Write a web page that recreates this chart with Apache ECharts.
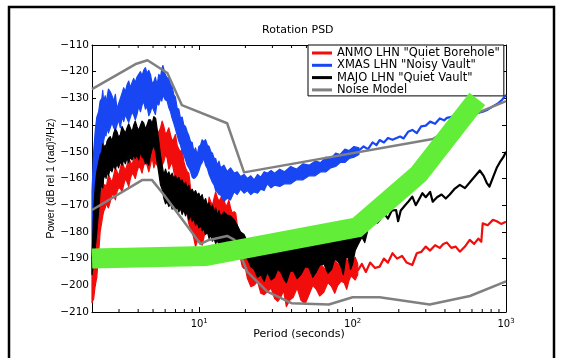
<!DOCTYPE html>
<html>
<head>
<meta charset="utf-8">
<script src="https://cdn.jsdelivr.net/npm/echarts@6/dist/echarts.min.js"></script>
<style>
  html, body { margin: 0; padding: 0; background: #fff; }
  #chart { width: 565px; height: 358px; }
</style>
</head>
<body>
<div id="chart"></div>
<script>
// noisy bands: [period, upper edge dB, lower edge dB]
// ANMO (red)
const redBand = [
    [2.00, -190, -206.5], [2.05, -186, -205], [2.10, -182, -200], [2.15, -175, -197], [2.21, -170, -188],
    [2.26, -166, -180], [2.32, -164, -176], [2.35, -160, -174], [2.38, -162.4, -172.4], [2.44, -162.4, -171],
    [2.47, -164, -169], [2.50, -162, -170], [2.56, -158.5, -171], [2.63, -160, -168.7], [2.70, -161.5, -166],
    [2.77, -158.7, -166.2], [2.84, -156, -168], [2.91, -157.4, -165], [2.98, -159, -163.5], [3.06, -156.2, -163.7],
    [3.14, -153.5, -165], [3.22, -155.5, -162.4], [3.30, -157, -160], [3.38, -155, -161.2], [3.47, -152.5, -163],
    [3.56, -153.7, -160], [3.65, -155, -158], [3.74, -152.4, -158.7], [3.83, -150, -160], [3.93, -151.2, -157.4],
    [4.03, -152.5, -155.5], [4.14, -150, -156.2], [4.24, -146.5, -158], [4.35, -147.5, -155], [4.46, -149.5, -154],
    [4.57, -150, -155], [4.69, -147, -157.5], [4.81, -151, -155], [4.93, -149.5, -152], [5.06, -146.2, -156],
    [5.18, -143, -154], [5.31, -142.5, -155], [5.45, -142.5, -151], [5.59, -141.2, -152], [5.73, -138.5, -155],
    [5.88, -140.5, -153.7], [6.03, -143.5, -151], [6.18, -142.5, -152.4], [6.34, -141, -156.5], [6.50, -143.7, -155],
    [6.66, -146, -154], [6.83, -145, -157.4], [7.00, -143.5, -161], [7.18, -147.5, -160], [7.36, -149, -158],
    [7.55, -150, -163.7], [7.74, -149, -167], [7.94, -153.7, -168.7], [8.14, -156, -170], [8.35, -157.4, -173.7],
    [8.56, -158, -177], [8.78, -163.7, -178.7], [9.00, -167, -180], [9.23, -168.7, -182.4], [9.46, -169, -185.5],
    [9.70, -172.4, -183.7], [9.95, -174.5, -182], [10.2, -175, -184], [10.45, -173, -185], [10.7, -176, -182.4],
    [11.0, -175.5, -179], [11.3, -172.4, -180], [11.6, -167, -181], [11.9, -168.7, -177.4], [12.2, -170, -175],
    [12.5, -167.4, -176.2], [12.8, -165, -178.5], [13.1, -167, -175.5], [13.45, -168.5, -174], [13.8, -167.4, -175],
    [14.15, -166, -178], [14.5, -168, -176.2], [14.85, -170, -175], [15.2, -170, -177.4], [15.6, -168, -180],
    [16.0, -171, -180], [16.45, -173, -179], [16.9, -172.4, -182.4], [17.3, -173, -185], [17.7, -177.4, -186],
    [18.15, -182, -188], [18.6, -182.4, -190], [19.1, -181, -193], [19.6, -186, -193.7], [20.1, -188, -194],
    [20.6, -188.7, -197.4], [21.7, -187, -200.5], [22.8, -191, -200], [24.0, -192.5, -198.5], [25.2, -192.4, -203],
    [26.5, -189.5, -203.5], [27.8, -193.7, -202.4], [29.4, -194.5, -201], [31, -194, -205], [32.5, -191.5, -206],
    [34, -195, -204.5], [35.5, -196.5, -202], [37, -194, -208], [39, -192, -205.5], [41, -195, -204.5],
    [43.5, -196.5, -201], [46, -194.5, -205.5], [49, -192, -207], [52, -194, -203.5], [55, -195.5, -200],
    [58, -193.5, -201.5], [61, -191.5, -204], [65, -193.5, -202.5], [69, -194.5, -199], [73, -192.5, -200.5],
    [76.5, -190.5, -203], [80, -192, -200], [84, -193.5, -198.5], [88, -191.5, -199], [91.5, -190, -201.5],
    [95, -192, -198], [97.5, -193, -196.5], [100, -191, -197], [104, -189.5, -198], [108, -192, -196]
];
const redTailPeriod = [108, 115, 122, 130, 140, 150, 160, 170, 182, 195, 210, 225, 245, 262, 280, 300, 320, 345, 370, 390, 412, 440, 470, 500, 540, 580, 620, 660, 690, 705, 760, 822, 870, 930, 1000];
const redTail = [-194.5, -192, -195, -191.5, -193.5, -193, -190, -191.5, -188, -190, -189, -191.5, -192.4, -188, -187.5, -185.5, -187, -185, -186, -184.5, -184, -186, -185.5, -187.4, -185.5, -183, -184.5, -182.5, -183.7, -176.8, -177.5, -175.5, -176, -177, -176.2];

// XMAS (blue)
const blueBand = [
    [2.00, -165, -190], [2.05, -150, -180], [2.10, -142, -176], [2.15, -137, -170], [2.21, -135, -162],
    [2.26, -131, -158], [2.32, -130, -152], [2.35, -127, -150], [2.38, -131, -146], [2.44, -129, -143],
    [2.47, -132, -144], [2.50, -130, -141], [2.56, -126.5, -143], [2.63, -127.5, -141], [2.70, -129, -139],
    [2.77, -131, -141], [2.84, -128.5, -142], [2.91, -134, -140], [2.98, -132, -138], [3.06, -130, -141],
    [3.14, -128, -137], [3.22, -126, -138.7], [3.30, -127.5, -136], [3.38, -125, -137.5], [3.47, -123.5, -139],
    [3.56, -126, -137], [3.65, -124, -135], [3.74, -122.5, -136.2], [3.83, -124, -138], [3.93, -122, -136],
    [4.03, -121, -133], [4.14, -120, -135], [4.24, -121.5, -132.5], [4.35, -119.4, -131.2], [4.46, -118.5, -134],
    [4.57, -120.6, -133], [4.69, -119.5, -136.5], [4.81, -121, -135], [4.93, -124.5, -133], [5.06, -123.7, -134.5],
    [5.18, -122, -136], [5.31, -125, -131.8], [5.45, -121, -132.5], [5.59, -122, -130], [5.70, -119, -131],
    [5.80, -117.7, -128.7], [6.00, -121, -130.5], [6.18, -122.5, -131], [6.34, -122, -133.5], [6.50, -125, -135],
    [6.66, -125.5, -137.5], [6.83, -128.7, -139.3], [7.00, -129.5, -141.5], [7.18, -133.7, -143.7], [7.36, -134, -146],
    [7.55, -137.5, -147.5], [7.74, -137, -150], [7.94, -140, -151.2], [8.14, -140.5, -153], [8.35, -142.5, -155],
    [8.56, -144, -156], [8.78, -146.2, -157.4], [9.00, -146.5, -159.5], [9.23, -150, -160], [9.46, -148.5, -159.5],
    [9.70, -151.2, -158.7], [9.95, -148, -157], [10.2, -147.5, -155], [10.45, -145.5, -154], [10.7, -146.2, -152.4],
    [11.0, -145.5, -155], [11.3, -147.5, -156.2], [11.6, -148, -158.5], [11.9, -150, -160], [12.2, -150.5, -161.5],
    [12.5, -152.4, -162.4], [12.8, -152.5, -164.5], [13.1, -155, -165], [13.45, -153.5, -166], [13.8, -156, -166.2],
    [14.5, -155, -168.5], [15.2, -157.4, -167.4], [16.0, -156, -168], [16.9, -158, -165], [17.7, -157.5, -166],
    [18.6, -159.3, -164], [19.6, -158.5, -165.5], [20.6, -160, -164.5], [21.7, -159, -166], [22.8, -160.5, -165],
    [24.0, -158.5, -165.5], [25.2, -159.5, -164], [26.5, -157.5, -164.5], [27.8, -158, -162], [29.4, -157, -163.5],
    [31, -158, -162.5], [33.5, -156.5, -163], [36, -157.5, -162], [39.5, -155.5, -162], [43, -156.5, -160.5],
    [47.5, -154.5, -160.5], [52, -155, -159], [57, -153.5, -159], [62, -154, -157.5], [67, -152, -157.5],
    [72, -152.5, -156], [77.5, -150.5, -155.5], [83, -151, -154], [89, -149, -154], [95, -149.5, -152.5],
    [102, -148, -152], [110, -148.5, -151]
];
const blueTailPeriod = [110, 118, 126, 135, 143, 150, 160, 170, 182, 204, 215, 230, 245, 262, 280, 300, 320, 345, 370, 395, 412, 450, 500, 560, 620, 705, 760, 820, 880, 940, 1000];
const blueTail = [-149.5, -148, -149, -146.5, -147.5, -145.6, -146.5, -144.8, -145.5, -144.3, -145, -142.5, -141.8, -143, -140.5, -140.2, -138.7, -139.5, -137.5, -138.2, -137.3, -136.8, -137, -136, -135.8, -135, -134.2, -133, -132, -130.6, -128.7];

// MAJO (black)
const blackBand = [
    [2.00, -190, -196], [2.05, -172.4, -191], [2.10, -163, -186], [2.15, -157.4, -180], [2.21, -154, -172],
    [2.26, -151.2, -165], [2.32, -150, -162], [2.35, -147, -163.5], [2.38, -148.7, -160], [2.44, -147.5, -158.5],
    [2.47, -149, -160], [2.50, -146.2, -157.4], [2.56, -145, -159], [2.63, -144.3, -156.2], [2.70, -146, -157.5],
    [2.77, -143, -155], [2.84, -141.5, -156.5], [2.91, -142.5, -154.5], [2.98, -144.5, -156], [3.06, -143.7, -153.7],
    [3.14, -140.5, -155], [3.22, -141.8, -153], [3.30, -143, -154.5], [3.38, -141.2, -152.4], [3.47, -139.5, -154],
    [3.56, -141.2, -152], [3.65, -142.5, -153], [3.74, -140, -151.2], [3.83, -138.5, -152.5], [3.93, -140.6, -151],
    [4.03, -142, -153], [4.14, -140, -150], [4.24, -138.5, -152], [4.35, -139.3, -152.4], [4.46, -141.5, -154.5],
    [4.57, -140, -153.7], [4.69, -138, -155], [4.81, -138, -151.2], [4.93, -139.5, -149], [5.06, -136.8, -147.5],
    [5.20, -137.5, -150], [5.31, -141.2, -153.7], [5.45, -146, -158], [5.59, -151.2, -162.4], [5.73, -155, -164],
    [5.88, -158.7, -167.4], [6.03, -156.5, -169.5], [6.18, -158.7, -168.7], [6.34, -157.5, -170.5], [6.50, -159.3, -169.3],
    [6.66, -158, -171.5], [6.83, -160, -170], [7.00, -159, -172], [7.18, -160.6, -170.6], [7.36, -159.5, -172.5],
    [7.55, -161.2, -171.2], [7.74, -160.5, -173.5], [7.94, -162.4, -171.8], [8.14, -161.5, -174], [8.35, -163.7, -172.4],
    [8.56, -162.5, -175.5], [8.78, -165, -173.7], [9.00, -164, -176], [9.23, -165.5, -175], [9.46, -164.5, -177.5],
    [9.70, -166.2, -176.2], [9.95, -165.5, -178.5], [10.2, -167.4, -177.4], [10.45, -166, -179.5], [10.7, -168.7, -178.7],
    [11.0, -167.5, -181], [11.3, -170, -180], [11.6, -169, -182.5], [11.9, -171.2, -181.2], [12.2, -170, -183.5],
    [12.5, -172.4, -182.4], [12.8, -171, -184.5], [13.1, -173.7, -183], [13.45, -172, -185], [13.8, -174.3, -183.7],
    [14.5, -172.5, -185], [15.2, -173.7, -183], [16.0, -174, -185.5], [16.9, -175.5, -183.7], [17.7, -177.5, -187],
    [18.6, -180, -185], [19.6, -181, -189], [20.6, -183.7, -190], [21.7, -182.5, -193], [22.8, -185, -194],
    [24.0, -183.5, -197], [25.2, -186, -196], [26.5, -184, -198.5], [27.8, -185.5, -195], [29.4, -184, -198],
    [31, -185, -197], [32.5, -183.5, -194], [34, -186, -195], [35.5, -184, -197.5], [37, -184.5, -199],
    [39, -183, -195], [41, -185, -194.5], [43.5, -183.5, -197.5], [46, -184, -196], [49, -182.5, -193],
    [52, -184, -193.5], [55, -182.5, -197], [58, -183, -195], [61, -182, -192.5], [65, -182.5, -192],
    [69, -181, -195.5], [73, -181.5, -194], [76.5, -180.5, -190], [80, -181, -191], [84, -180, -193],
    [87, -180.5, -196], [90, -179, -190], [93, -179.5, -189], [97, -178.5, -194], [100, -178.5, -192],
    [104, -176.5, -187], [108, -177, -185], [115, -175.5, -182], [120, -174, -184], [125, -175, -180]
];
const blackTailPeriod = [125, 135, 145, 150, 160, 170, 180, 192, 198, 206, 220, 232, 245, 258, 270, 285, 300, 320, 333, 355, 380, 405, 430, 460, 500, 540, 600, 675, 715, 750, 780, 830, 870, 910, 960, 1000];
const blackTail = [-177, -174, -176.5, -175.5, -173, -175, -172, -171.8, -176, -172, -170, -168.5, -166.8, -170, -168, -165.5, -167, -165, -168.7, -167, -166, -167.5, -166, -164, -162.4, -163.6, -160.5, -157, -159, -161.7, -163, -159, -156, -154, -152, -150];

// noise model, upper and lower bounds
const noiseHighPeriod = [2, 3.9, 4.6, 6.2, 7.7, 15.2, 19.6, 333, 646, 1000];
const noiseHigh = [-126.5, -117, -115.7, -120.5, -132.5, -139.3, -157.7, -145.2, -135.5, -131];
const noiseLowPeriod = [2, 4.24, 4.93, 5.9, 10.2, 11.6, 15.2, 17, 20.6, 27.8, 40, 70, 100, 150, 318, 582, 1000];
const noiseLow = [-171.8, -160.6, -160.6, -166.2, -184.5, -183, -181.5, -183, -195, -202.4, -206.7, -207.2, -204.5, -204.5, -207.2, -204, -198.5];

// the thick green overlay
const greenPeriod = [2, 11, 107, 270, 650];
const greenPower = [-190, -189, -178.3, -158.3, -130.2];

const xTickValues = [10, 100, 1000];
const xTickExponents = ['1', '2', '3'];
const minorTickValues = [3, 4, 5, 6, 7, 8, 9, 20, 30, 40, 50, 60, 70, 80, 90, 200, 300, 400, 500, 600, 700, 800, 900];

const NAMES = ['ANMO LHN "Quiet Borehole"', 'XMAS LHN "Noisy Vault"', 'MAJO LHN "Quiet Vault"', 'Noise Model'];
const FONT = 'DejaVu Sans';

const chart = echarts.init(document.getElementById('chart'));

// filled polygon between the upper and lower edge of a noisy trace
function band(name, color, rows) {
    return {
        name: name,
        type: 'custom',
        coordinateSystem: 'cartesian2d',
        silent: true,
        itemStyle: { color: color },
        data: rows,
        encode: { x: 0, y: [1, 2] },
        renderItem: (params, api) => {
            if (params.dataIndex !== 0) return null;
            const top = rows.map(r => api.coord([r[0], r[1]]));
            const bottom = rows.map(r => api.coord([r[0], r[2]])).reverse();
            return {
                type: 'polygon',
                shape: { points: top.concat(bottom) },
                style: { fill: color, stroke: color, lineWidth: 1.2, lineJoin: 'round' }
            };
        }
    };
}

function line(name, color, periods, values, width, z) {
    return {
        name: name,
        type: 'line',
        data: periods.map((p, i) => [p, values[i]]),
        showSymbol: false,
        symbol: 'none',
        silent: true,
        z: z || 2,
        itemStyle: { color: color },
        lineStyle: { color: color, width: width, join: 'round' }
    };
}

const RED = '#f20d0d';
const BLUE = '#1746f2';
const BLACK = '#000000';
const GRAY = '#808080';
const GREEN = '#62ee38';

const green = line('green', GREEN, greenPeriod, greenPower, 20, 10);
green.lineStyle.join = 'miter';
green.lineStyle.cap = 'butt';

const option = {
    animation: false,
    title: {
        text: 'Rotation PSD',
        left: 262,
        top: 25,
        padding: 0,
        textStyle: { fontFamily: FONT, fontSize: 11, fontWeight: 'normal', color: '#000' }
    },
    legend: {
        data: NAMES.map(n => ({ name: n, icon: 'rect' })),
        orient: 'vertical',
        left: 308,
        top: 45,
        itemWidth: 20,
        itemHeight: 3,
        itemGap: 0.3,
        padding: [2, 4, 0, 4],
        borderColor: '#000',
        borderWidth: 1,
        backgroundColor: '#fff',
        selectedMode: false,
        textStyle: { fontFamily: FONT, fontSize: 11.5, lineHeight: 12, color: '#000' }
    },
    grid: { left: 92, top: 45, right: 59, bottom: 46 },
    xAxis: [
        {
            type: 'log',
            logBase: 10,
            min: 2,
            max: 1000,
            position: 'bottom',
            name: 'Period (seconds)',
            nameLocation: 'middle',
            nameGap: 16,
            nameMoveOverlap: false,
            nameTextStyle: { fontFamily: FONT, fontSize: 11, color: '#000', lineHeight: 13 },
            axisLine: { lineStyle: { color: '#000', width: 1 } },
            axisTick: { inside: true, length: 5, lineStyle: { color: '#000' } },
            axisLabel: {
                margin: 6,
                formatter: v => {
                    const i = xTickValues.findIndex(t => Math.abs(t - v) < 1e-6);
                    return i < 0 ? '' : '{b|10}{s|' + xTickExponents[i] + '}';
                },
                rich: {
                    b: { fontFamily: FONT, fontSize: 10, color: '#000' },
                    s: { fontFamily: FONT, fontSize: 7, color: '#000', padding: [0, 0, 6, 0] }
                }
            },
            splitLine: { show: false }
        },
        {
            type: 'log',
            logBase: 10,
            min: 2,
            max: 1000,
            position: 'top',
            axisLine: { lineStyle: { color: '#000', width: 1 } },
            axisTick: { inside: true, length: 5, lineStyle: { color: '#000' } },
            axisLabel: { show: false },
            splitLine: { show: false }
        }
    ],
    yAxis: [
        {
            type: 'value',
            min: -210,
            max: -110,
            interval: 10,
            position: 'left',
            name: 'Power (dB rel 1 (rad)\u00b2/Hz)',
            nameLocation: 'middle',
            nameRotate: 90,
            nameGap: 35,
            nameMoveOverlap: false,
            nameTextStyle: { fontFamily: 'Liberation Sans', fontSize: 10.5, color: '#000' },
            axisLine: { show: true, lineStyle: { color: '#000', width: 1 } },
            axisTick: { show: true, inside: true, length: 4, lineStyle: { color: '#000' } },
            axisLabel: {
                margin: 3,
                fontFamily: FONT,
                fontSize: 10.5,
                color: '#000',
                formatter: v => String(v).replace('-', '\u2212')
            },
            splitLine: { show: false }
        },
        {
            type: 'value',
            min: -210,
            max: -110,
            interval: 10,
            position: 'right',
            axisLine: { show: true, lineStyle: { color: '#000', width: 1 } },
            axisTick: { show: true, inside: true, length: 4, lineStyle: { color: '#000' } },
            axisLabel: { show: false },
            splitLine: { show: false }
        }
    ],
    graphic: [{
        type: 'rect',
        silent: true,
        shape: { x: 9, y: 7, width: 545, height: 400 },
        style: { fill: 'none', stroke: '#000', lineWidth: 2.5 }
    }],
    series: [
        band(NAMES[0], RED, redBand),
        line(NAMES[0], RED, redTailPeriod, redTail, 2.2),
        band(NAMES[1], BLUE, blueBand),
        line(NAMES[1], BLUE, blueTailPeriod, blueTail, 2.2),
        band(NAMES[2], BLACK, blackBand),
        line(NAMES[2], BLACK, blackTailPeriod, blackTail, 2.2),
        line(NAMES[3], GRAY, noiseHighPeriod, noiseHigh, 2.5, 3),
        line(NAMES[3], GRAY, noiseLowPeriod, noiseLow, 2.5, 3),
        green,
        {
            // minor ticks of the log axis, top and bottom
            name: 'minorTicks',
            type: 'custom',
            silent: true,
            z: 3,
            data: minorTickValues.map(v => [v, -210]),
            encode: { x: 0, y: 1 },
            renderItem: (params, api) => {
                const b = api.coord([api.value(0), -210]);
                const t = api.coord([api.value(0), -110]);
                return {
                    type: 'group',
                    children: [
                        { type: 'line', shape: { x1: b[0], y1: b[1], x2: b[0], y2: b[1] - 3 }, style: { stroke: '#000', lineWidth: 1 } },
                        { type: 'line', shape: { x1: t[0], y1: t[1], x2: t[0], y2: t[1] + 3 }, style: { stroke: '#000', lineWidth: 1 } }
                    ]
                };
            }
        }
    ]
};

chart.setOption(option);
</script>
</body>
</html>
